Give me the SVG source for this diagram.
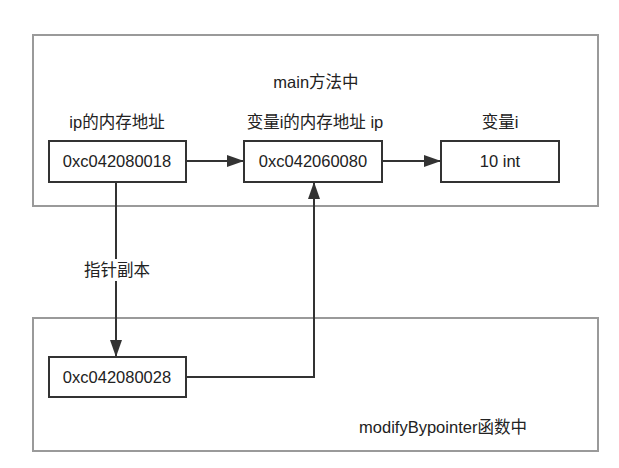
<svg xmlns="http://www.w3.org/2000/svg" width="619" height="468" viewBox="0 0 619 468">
<style>
.frame{fill:#fff;stroke:#9a9a9a;stroke-width:2}
.node{fill:#fff;stroke:#333;stroke-width:2}
.t{font-family:"Liberation Sans","Noto Sans CJK SC",sans-serif;font-size:16.5px;fill:#222;text-anchor:middle;dominant-baseline:central}
.c{fill:none;stroke:#333;stroke-width:2}
</style>
<defs>
<marker id="ah" viewBox="0 0 17 12" refX="17" refY="6" markerWidth="17" markerHeight="12" markerUnits="userSpaceOnUse" orient="auto">
<path d="M0,0 L17,6 L0,12 z" fill="#333"/>
</marker>
</defs>
<rect width="619" height="468" fill="#fff"/>
<g id="main-frame">
<rect class="frame" x="33" y="35" width="565" height="171"/>
<text class="t" x="316" y="82">main方法中</text>
</g>
<g id="modify-frame">
<rect class="frame" x="33" y="318" width="565" height="133"/>
<text class="t" x="443" y="427">modifyBypointer函数中</text>
</g>
<g id="labels">
<text class="t" x="117" y="122">ip的内存地址</text>
<text class="t" x="315" y="122">变量i的内存地址 ip</text>
<text class="t" x="500" y="122">变量i</text>
</g>
<g id="connectors">
<path class="c" d="M186,161 H244" marker-end="url(#ah)"/>
<path class="c" d="M382,161 H441" marker-end="url(#ah)"/>
<path class="c" d="M116,182 V357" marker-end="url(#ah)"/>
<path class="c" d="M186,377 H314 V182" marker-end="url(#ah)"/>
<rect x="82" y="259" width="70" height="22" fill="#fff"/>
<text class="t" x="117" y="270">指针副本</text>
</g>
<g id="node1">
<rect class="node" x="49" y="141" width="137" height="41"/>
<text class="t" x="117" y="161">0xc042080018</text>
</g>
<g id="node2">
<rect class="node" x="244" y="141" width="138" height="41"/>
<text class="t" x="313" y="161">0xc042060080</text>
</g>
<g id="node3">
<rect class="node" x="441" y="141" width="118" height="41"/>
<text class="t" x="500" y="161">10 int</text>
</g>
<g id="node4">
<rect class="node" x="49" y="357" width="137" height="40"/>
<text class="t" x="117" y="377">0xc042080028</text>
</g>
</svg>
